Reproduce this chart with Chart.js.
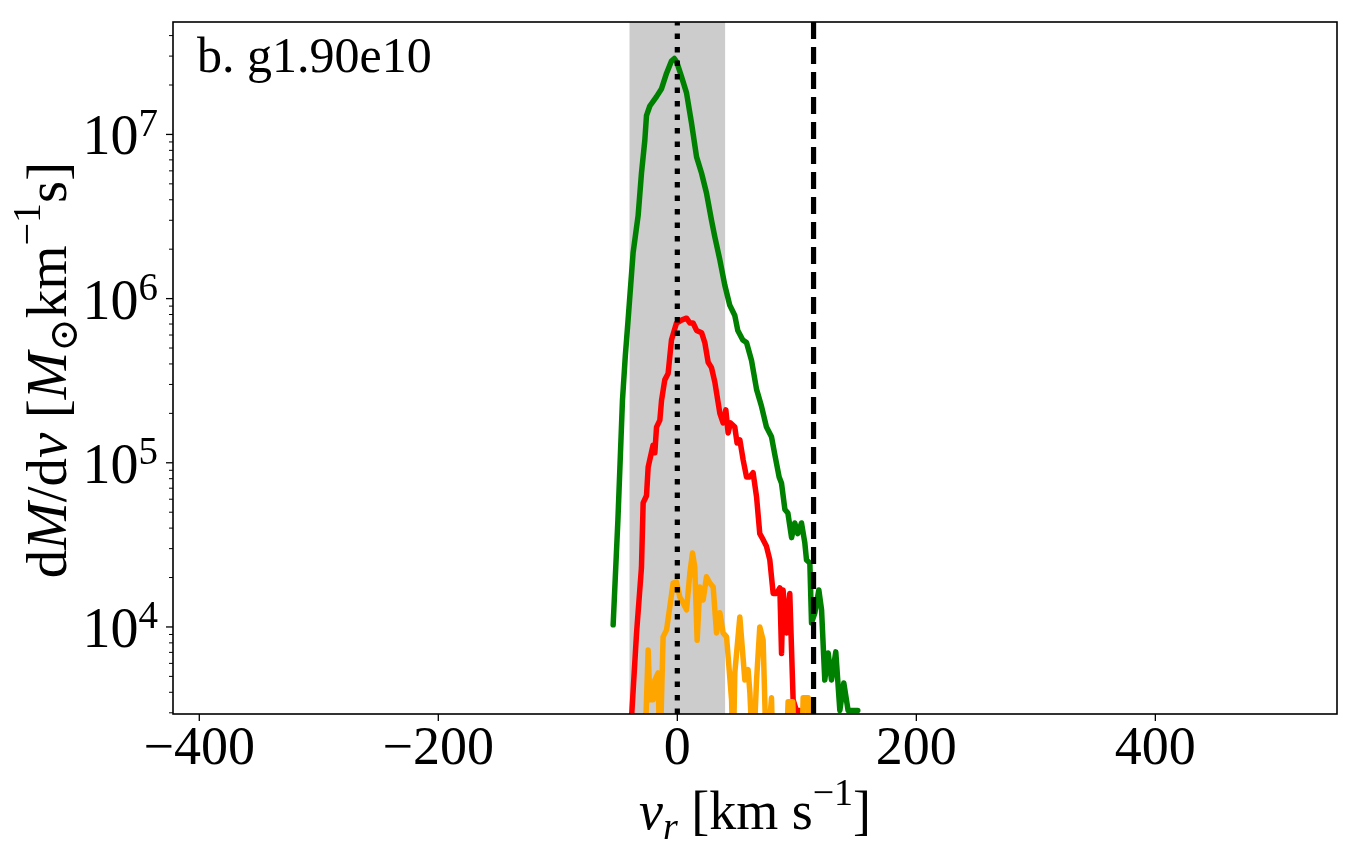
<!DOCTYPE html>
<html><head><meta charset="utf-8">
<script src="https://cdn.jsdelivr.net/npm/chart.js@4.4.1/dist/chart.umd.min.js"></script>
<style>html,body{margin:0;padding:0;background:#fff;}#wrap{width:1359px;height:862px;position:relative;}</style>
</head><body><div id="wrap"><canvas id="c"></canvas></div>
<script>
// ---- data ----
const greenV = [-53.7,-49.7,-45.9,-43.5,-41.2,-37.0,-32.8,-30.0,-27.2,-25.8,-23.0,-17.4,-13.2,-9.0,-4.9,-2.5,-0.4,3.5,7.7,11.9,16.1,20.3,24.4,28.6,31.4,35.6,39.7,43.9,48.1,50.6,54.8,57.9,62.1,66.3,70.5,74.6,78.8,81.6,85.2,87.2,90.0,92.5,95.6,98.3,100.8,103.9,106.7,108.1,110.9,112.3,115.1,118.4,120.7,123.4,126.2,129.0,132.6,136.0,139.3,142.9,146.9,151.0];
const greenM = [1.03e4,4.5e4,2.4e5,4.5e5,7.4e5,1.9e6,3.2e6,5.8e6,9.2e6,1.3e7,1.49e7,1.7e7,1.9e7,2.36e7,2.8e7,2.9e7,2.75e7,2.25e7,1.79e7,1.17e7,7.3e6,5.8e6,4.4e6,3.0e6,2.37e6,1.72e6,1.21e6,9.1e5,7.9e5,6.4e5,5.6e5,5.4e5,4.2e5,2.8e5,2.2e5,1.65e5,1.44e5,1.12e5,8.2e4,7.5e4,5.2e4,4.95e4,3.5e4,4.3e4,3.7e4,4.3e4,3.25e4,2.56e4,2.45e4,1.06e4,1.22e4,1.68e4,1.27e4,4.75e3,6.95e3,4.75e3,7.05e3,3.1e3,4.56e3,3.1e3,3.1e3,3.1e3];
const redV = [-39.5,-34.1,-30.0,-28.6,-25.8,-24.4,-20.3,-18.8,-17.4,-14.6,-13.2,-10.5,-7.7,-4.9,-0.7,3.5,7.7,10.5,13.2,16.1,20.3,23.0,25.8,28.6,31.4,35.6,38.3,40.6,42.5,44.5,48.1,50.0,52.3,55.1,57.9,60.7,63.4,66.3,69.0,71.8,74.6,77.4,80.2,83.0,85.8,87.2,88.5,91.4,94.1,96.9,99.7,102.5,104.0];
const redM = [2.0e3,9.2e3,2.3e4,5.7e4,6.3e4,9.4e4,1.28e5,1.15e5,1.65e5,1.82e5,2.4e5,3.2e5,3.5e5,5.6e5,7.1e5,7.4e5,7.6e5,7.1e5,7.1e5,6.4e5,6.2e5,5.4e5,4.1e5,3.8e5,3.1e5,2.0e5,1.75e5,2.1e5,1.52e5,1.75e5,1.65e5,1.32e5,1.38e5,1.04e5,8.2e4,8.2e4,8.7e4,6.2e4,3.7e4,3.4e4,3.1e4,2.56e4,1.6e4,1.6e4,1.73e4,6.9e3,1.68e4,9.2e3,1.6e4,3.6e3,3.1e3,3.1e3,1.5e3];
const orangeV = [-27.5,-24.4,-23.0,-20.3,-18.8,-16.1,-14.6,-11.9,-9.0,-6.3,-3.5,-0.7,2.1,4.9,7.7,10.5,12.7,14.6,16.6,18.8,21.6,24.4,27.2,30.0,32.8,35.6,38.3,41.2,45.4,46.7,48.1,52.3,56.5,59.2,60.7,63.4,66.3,69.0,71.8,74.6,78.8,80.2,91.0,92.7,96.6,98.3,104.0,105.3,109.5,110.4];
const orangeM = [1.5e3,7.25e3,3.6e3,3.6e3,4.75e3,5.25e3,1.5e3,8.7e3,9.6e3,1.32e4,1.85e4,1.88e4,1.52e4,1.4e4,1.27e4,2.13e4,2.82e4,2.32e4,8.3e3,1.75e4,1.46e4,2.02e4,1.85e4,1.75e4,9.2e3,1.22e4,9.2e3,8.7e3,3.6e3,1.5e3,5.25e3,1.15e4,4.75e3,5.5e3,4.0e3,1.5e3,4.75e3,1.0e4,8.3e3,1.5e3,3.7e3,1.5e3,1.5e3,3.5e3,3.5e3,1.5e3,1.5e3,3.7e3,3.7e3,1.5e3];
const bandRange = [-40, 40];
const dottedLineV = 0;
const dashedLineV = 114;
const xRange = [-422, 552];
const yRange = [2950, 4.84e7];
const xTickValues = [-400, -200, 0, 200, 400];
const xTickLabels = ['\u2212400', '\u2212200', '0', '200', '400'];
const yTickValues = [1e4, 1e5, 1e6, 1e7];
const yTickExps = ['4', '5', '6', '7'];
const panelLabel = 'b. g1.90e10';

const FONT = '"Liberation Serif", "DejaVu Serif", serif';
function pts(v, m) { return v.map((x, i) => ({x: x, y: m[i]})); }
function fontOf(s, base) { return (s.it ? 'italic ' : '') + Math.round(base * (s.sc || 1)) + 'px ' + FONT; }
function drawRich(ctx, segs, x, y, base, align) {
  let w = 0;
  for (const s of segs) { ctx.font = fontOf(s, base); w += ctx.measureText(s.t).width + (s.gap || 0) * base; }
  let cx = align === 'center' ? x - w / 2 : (align === 'right' ? x - w : x);
  ctx.textAlign = 'left'; ctx.textBaseline = 'alphabetic';
  for (const s of segs) {
    ctx.font = fontOf(s, base);
    ctx.fillText(s.t, cx, y + (s.dy || 0) * base);
    cx += ctx.measureText(s.t).width + (s.gap || 0) * base;
  }
}

const decor = {
  id: 'decor',
  beforeDatasetsDraw(chart) {
    const {ctx, chartArea: a, scales: {x}} = chart;
    ctx.save();
    ctx.fillStyle = '#cccccc';
    const x0 = x.getPixelForValue(bandRange[0]), x1 = x.getPixelForValue(bandRange[1]);
    ctx.fillRect(x0, a.top, x1 - x0, a.bottom - a.top);
    ctx.restore();
  },
  afterDatasetsDraw(chart) {
    const {ctx, chartArea: a, scales: {x}} = chart;
    ctx.save();
    ctx.beginPath(); ctx.rect(a.left, a.top, a.right - a.left, a.bottom - a.top); ctx.clip();
    ctx.strokeStyle = '#000'; ctx.lineWidth = 5.2; ctx.lineCap = 'butt';
    let px = x.getPixelForValue(dottedLineV);
    ctx.setLineDash([5.5, 8]);
    ctx.beginPath(); ctx.moveTo(px, a.bottom); ctx.lineTo(px, a.top); ctx.stroke();
    px = x.getPixelForValue(dashedLineV);
    ctx.setLineDash([17, 8]);
    ctx.beginPath(); ctx.moveTo(px, a.bottom); ctx.lineTo(px, a.top); ctx.stroke();
    ctx.restore();
  },
  afterDraw(chart) {
    const {ctx, chartArea: a, scales: {x, y}} = chart;
    ctx.save();
    ctx.strokeStyle = '#000'; ctx.fillStyle = '#000';
    // frame
    ctx.lineWidth = 1.6; ctx.setLineDash([]);
    ctx.strokeRect(a.left, a.top, a.right - a.left, a.bottom - a.top);
    // x ticks
    ctx.lineWidth = 1.3;
    for (const v of xTickValues) {
      const px = x.getPixelForValue(v);
      ctx.beginPath(); ctx.moveTo(px, a.bottom); ctx.lineTo(px, a.bottom + 7); ctx.stroke();
    }
    // y ticks (major + minor)
    const lo = Math.floor(Math.log10(yRange[0])), hi = Math.ceil(Math.log10(yRange[1]));
    for (let e = lo; e <= hi; e++) {
      for (let k = 1; k <= 9; k++) {
        const v = k * Math.pow(10, e);
        if (v < yRange[0] || v > yRange[1]) continue;
        const py = y.getPixelForValue(v);
        const len = k === 1 ? 7 : 4;
        ctx.lineWidth = k === 1 ? 1.3 : 1.0;
        ctx.beginPath(); ctx.moveTo(a.left, py); ctx.lineTo(a.left - len, py); ctx.stroke();
      }
    }
    // y tick labels 10^n
    yTickValues.forEach((v, i) => {
      const py = y.getPixelForValue(v);
      drawRich(ctx, [{t: '10'}, {t: yTickExps[i], sc: 0.7, dy: -0.33}], a.left - 15, py + 20, 56, 'right');
    });
    // panel label
    ctx.font = '50px ' + FONT; ctx.textAlign = 'left'; ctx.textBaseline = 'alphabetic';
    ctx.fillText(panelLabel, 197, 72);
    // x title
    drawRich(ctx, [{t: 'v', it: 1}, {t: 'r', it: 1, sc: 0.7, dy: 0.18}, {t: ' [km s'}, {t: '\u22121', sc: 0.7, dy: -0.45}, {t: ']'}],
      (a.left + a.right) / 2, 829, 54, 'center');
    // y title
    ctx.translate(66, (a.top + a.bottom) / 2 + 2);
    ctx.rotate(-Math.PI / 2);
    drawRich(ctx, [{t: 'd'}, {t: 'M', it: 1}, {t: '/d'}, {t: 'v', it: 1}, {t: ' ['}, {t: 'M', it: 1}, {t: '\u2299', sc: 0.7, dy: 0.2}, {t: 'km'}, {t: '\u22121', sc: 0.7, dy: -0.45}, {t: 's]'}],
      0, 0, 57, 'center');
    ctx.restore();
  }
};

const common = {showLine: true, pointRadius: 0, borderWidth: 5.5, tension: 0, borderJoinStyle: 'round', borderCapStyle: 'round', clip: 0, fill: false};
new Chart(document.getElementById('c'), {
  type: 'scatter',
  data: {
    datasets: [
      Object.assign({label: 'orange', data: pts(orangeV, orangeM), borderColor: '#ffa500', order: 1}, common),
      Object.assign({label: 'red', data: pts(redV, redM), borderColor: '#ff0000', order: 2}, common),
      Object.assign({label: 'green', data: pts(greenV, greenM), borderColor: '#008000', order: 3}, common)
    ]
  },
  options: {
    responsive: true, maintainAspectRatio: false, animation: false,
    layout: {padding: {left: 0, right: 22, top: 22, bottom: 0}},
    plugins: {legend: {display: false}, tooltip: {enabled: false}},
    scales: {
      x: {
        type: 'linear', min: xRange[0], max: xRange[1],
        grid: {display: false, drawTicks: false}, border: {display: false},
        afterBuildTicks: (s) => { s.ticks = xTickValues.map(v => ({value: v})); },
        afterFit: (s) => { s.height = 148; },
        ticks: {autoSkip: false, maxRotation: 0, padding: 3, color: '#000', font: {family: FONT, size: 54},
          callback: (v) => { const i = xTickValues.indexOf(v); return i >= 0 ? xTickLabels[i] : ''; }}
      },
      y: {
        type: 'logarithmic', min: yRange[0], max: yRange[1],
        grid: {display: false, drawTicks: false}, border: {display: false},
        afterFit: (s) => { s.width = 173; },
        ticks: {display: false}
      }
    }
  },
  plugins: [decor]
});
</script></body></html>
